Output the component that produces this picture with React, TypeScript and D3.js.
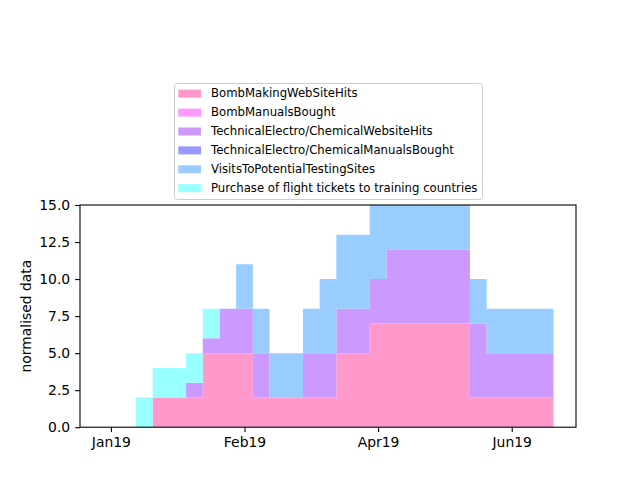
import { useEffect, useRef } from "react";
import * as d3 from "d3";

// one value per step, index 0..26
const bombSiteHits = [0, 0, 0, 2, 2, 2, 5, 5, 5, 2, 2, 2, 2, 2, 5, 5, 7, 7, 7, 7, 7, 7, 2, 2, 2, 2, 2];
const bombManuals = [0, 0, 0, 0, 0, 0, 0, 0, 0, 0, 0, 0, 0, 0, 0, 0, 0, 0, 0, 0, 0, 0, 0, 0, 0, 0, 0];
const techSiteHits = [0, 0, 0, 0, 0, 1, 1, 3, 3, 3, 0, 0, 3, 3, 3, 3, 3, 5, 5, 5, 5, 5, 5, 3, 3, 3, 3];
const techManuals = [0, 0, 0, 0, 0, 0, 0, 0, 0, 0, 0, 0, 0, 0, 0, 0, 0, 0, 0, 0, 0, 0, 0, 0, 0, 0, 0];
const testingSiteVisits = [0, 0, 0, 0, 0, 0, 0, 0, 3, 3, 3, 3, 3, 5, 5, 5, 5, 3, 3, 3, 3, 3, 3, 3, 3, 3, 3];
const flightTickets = [0, 0, 2, 2, 2, 2, 2, 0, 0, 0, 0, 0, 0, 0, 0, 0, 0, 0, 0, 0, 0, 0, 0, 0, 0, 0, 0];

const seriesNames = [
  "BombMakingWebSiteHits",
  "BombManualsBought",
  "TechnicalElectro/ChemicalWebsiteHits",
  "TechnicalElectro/ChemicalManualsBought",
  "VisitsToPotentialTestingSites",
  "Purchase of flight tickets to training countries",
];
const seriesColors = ["#ff99cc", "#ff99ff", "#cc99ff", "#9999ff", "#99ccff", "#99ffff"];

const tickIndex = [0, 8, 16, 24];
const tickLabels = ["Jan19", "Feb19", "Apr19", "Jun19"];
const yTicks = [0, 2.5, 5, 7.5, 10, 12.5, 15];

export default function App() {
  const svgRef = useRef<SVGSVGElement>(null);

  useEffect(() => {
    const svg = d3.select(svgRef.current);
    svg.selectAll("*").remove();

    const left = 80, right = 576, top = 205, bottom = 427.2;
    const font = "DejaVu Sans, sans-serif";

    const values = [bombSiteHits, bombManuals, techSiteHits, techManuals, testingSiteVisits, flightTickets];
    const n = bombSiteHits.length;
    const rows = d3.range(n).map(i => {
      const r: any = { i };
      seriesNames.forEach((s, k) => (r[s] = values[k][i]));
      return r;
    });
    const stacked = d3.stack().keys(seriesNames)(rows);

    // step-mid data runs from -0.5 to n-0.5, plus 5% margins
    const span = n;
    const x = d3.scaleLinear()
      .domain([-0.5 - span * 0.05, n - 0.5 + span * 0.05])
      .range([left, right]);
    const y = d3.scaleLinear().domain([0, 15]).range([bottom, top]);

    svg.append("clipPath").attr("id", "plotclip")
      .append("rect")
      .attr("x", left).attr("y", top)
      .attr("width", right - left).attr("height", bottom - top);

    const area = d3.area<any>()
      .x(d => x(d.x))
      .y0(d => y(d.y0))
      .y1(d => y(d.y1))
      .curve(d3.curveStepAfter);

    const plot = svg.append("g").attr("clip-path", "url(#plotclip)");
    stacked.forEach((layer, k) => {
      const pts = layer.map((d, i) => ({ x: i - 0.5, y0: d[0], y1: d[1] }));
      const last = pts[pts.length - 1];
      pts.push({ x: n - 0.5, y0: last.y0, y1: last.y1 });
      plot.append("path")
        .attr("d", area(pts))
        .attr("fill", seriesColors[k]);
    });

    // axes
    const xAxis = svg.append("g")
      .attr("transform", `translate(0,${bottom})`)
      .call(
        d3.axisBottom(x)
          .tickValues(tickIndex)
          .tickFormat((d, i) => tickLabels[i])
          .tickSize(4.9)
          .tickPadding(4.9)
      );
    xAxis.select(".domain").remove();

    const yAxis = svg.append("g")
      .attr("transform", `translate(${left},0)`)
      .call(
        d3.axisLeft(y)
          .tickValues(yTicks)
          .tickFormat(d3.format(".1f"))
          .tickSize(4.9)
          .tickPadding(4.9)
      );
    yAxis.select(".domain").remove();

    svg.selectAll(".tick line").attr("stroke", "#000").attr("stroke-width", 1.1);
    svg.selectAll(".tick text")
      .attr("font-family", font)
      .attr("font-size", 13.9)
      .attr("fill", "#000");

    svg.append("rect")
      .attr("x", left).attr("y", top)
      .attr("width", right - left).attr("height", bottom - top)
      .attr("fill", "none")
      .attr("stroke", "#000")
      .attr("stroke-width", 1.1);

    svg.append("text")
      .attr("transform", `translate(31,${(top + bottom) / 2}) rotate(-90)`)
      .attr("text-anchor", "middle")
      .attr("font-family", font)
      .attr("font-size", 13.9)
      .text("normalised data");

    // legend
    const lg = svg.append("g");
    lg.append("rect")
      .attr("x", 174.5).attr("y", 83.5)
      .attr("width", 308).attr("height", 116)
      .attr("rx", 3)
      .attr("fill", "#fff").attr("fill-opacity", 0.8)
      .attr("stroke", "#cccccc").attr("stroke-width", 1);

    seriesNames.forEach((name, k) => {
      const base = 97.3 + k * 18.9;
      lg.append("rect")
        .attr("x", 178.3).attr("y", base - 7.6)
        .attr("width", 22.7).attr("height", 8)
        .attr("fill", seriesColors[k]);
      lg.append("text")
        .attr("x", 211).attr("y", base)
        .attr("font-family", font)
        .attr("font-size", 11.7)
        .text(name);
    });
  }, []);

  return <svg ref={svgRef} width={640} height={480} style={{ display: "block", margin: -8 }} />;
}
